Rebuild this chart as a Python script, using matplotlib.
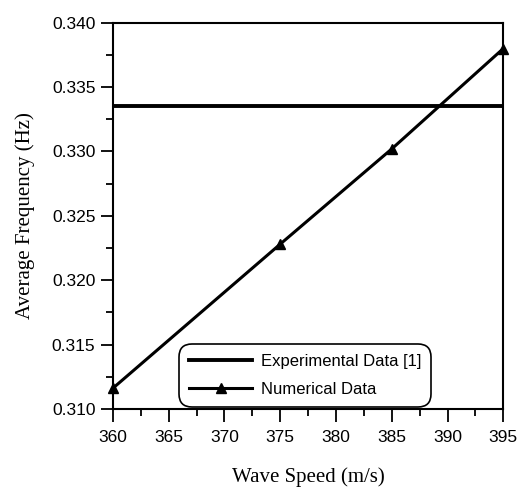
#!/usr/bin/env python3
"""Average frequency vs wave speed: experimental reference line and numerical results."""

import matplotlib.pyplot as plt
from matplotlib.ticker import MultipleLocator

plt.rcParams.update({
    "font.family": "Liberation Sans",
    "xtick.labelsize": 12.5,
    "ytick.labelsize": 12.5,
})

# experimental value (constant over the speed range)
exp_speed = [360, 395]
exp_freq = [0.3335, 0.3335]

# numerical results
num_speed = [360, 375, 385, 395]
num_freq = [0.3116, 0.3228, 0.3302, 0.3380]

fig = plt.figure(figsize=(5.2, 4.95), dpi=100)
ax = fig.add_axes([0.217, 0.174, 0.751, 0.780])

ax.plot(exp_speed, exp_freq, color="black", linewidth=2.8, label="Experimental Data [1]")
ax.plot(num_speed, num_freq, color="black", linewidth=2.2, marker="^", markersize=7,
        label="Numerical Data", clip_on=False)

ax.set_xlim(360, 395)
ax.set_ylim(0.310, 0.340)
ax.xaxis.set_major_locator(MultipleLocator(5))
ax.xaxis.set_minor_locator(MultipleLocator(2.5))
ax.yaxis.set_major_locator(MultipleLocator(0.005))
ax.yaxis.set_minor_locator(MultipleLocator(0.0025))
ax.yaxis.set_major_formatter(plt.FormatStrFormatter("%.3f"))

ax.tick_params(which="major", direction="out", length=9, width=1.3, top=False, right=False)
ax.tick_params(which="minor", direction="out", length=5, width=1.3, top=False, right=False)
ax.tick_params(axis="x", pad=6)
for sp in ax.spines.values():
    sp.set_linewidth(1.5)

ax.set_xlabel("Wave Speed (m/s)", family="Liberation Serif", fontsize=15, labelpad=16)
ax.set_ylabel("Average Frequency (Hz)", family="Liberation Serif", fontsize=15, labelpad=12)

leg = ax.legend(loc="lower left", bbox_to_anchor=(0.165, 0.0), fontsize=12,
                handlelength=3.8, frameon=True, fancybox=True, edgecolor="black",
                borderpad=0.6, labelspacing=0.8, borderaxespad=0.1, handletextpad=0.5)
leg.get_frame().set_linewidth(1.2)
leg.get_frame().set_alpha(1)
leg.get_frame().set_boxstyle("round", pad=0, rounding_size=0.8)

fig.savefig("out.png", dpi=100)
